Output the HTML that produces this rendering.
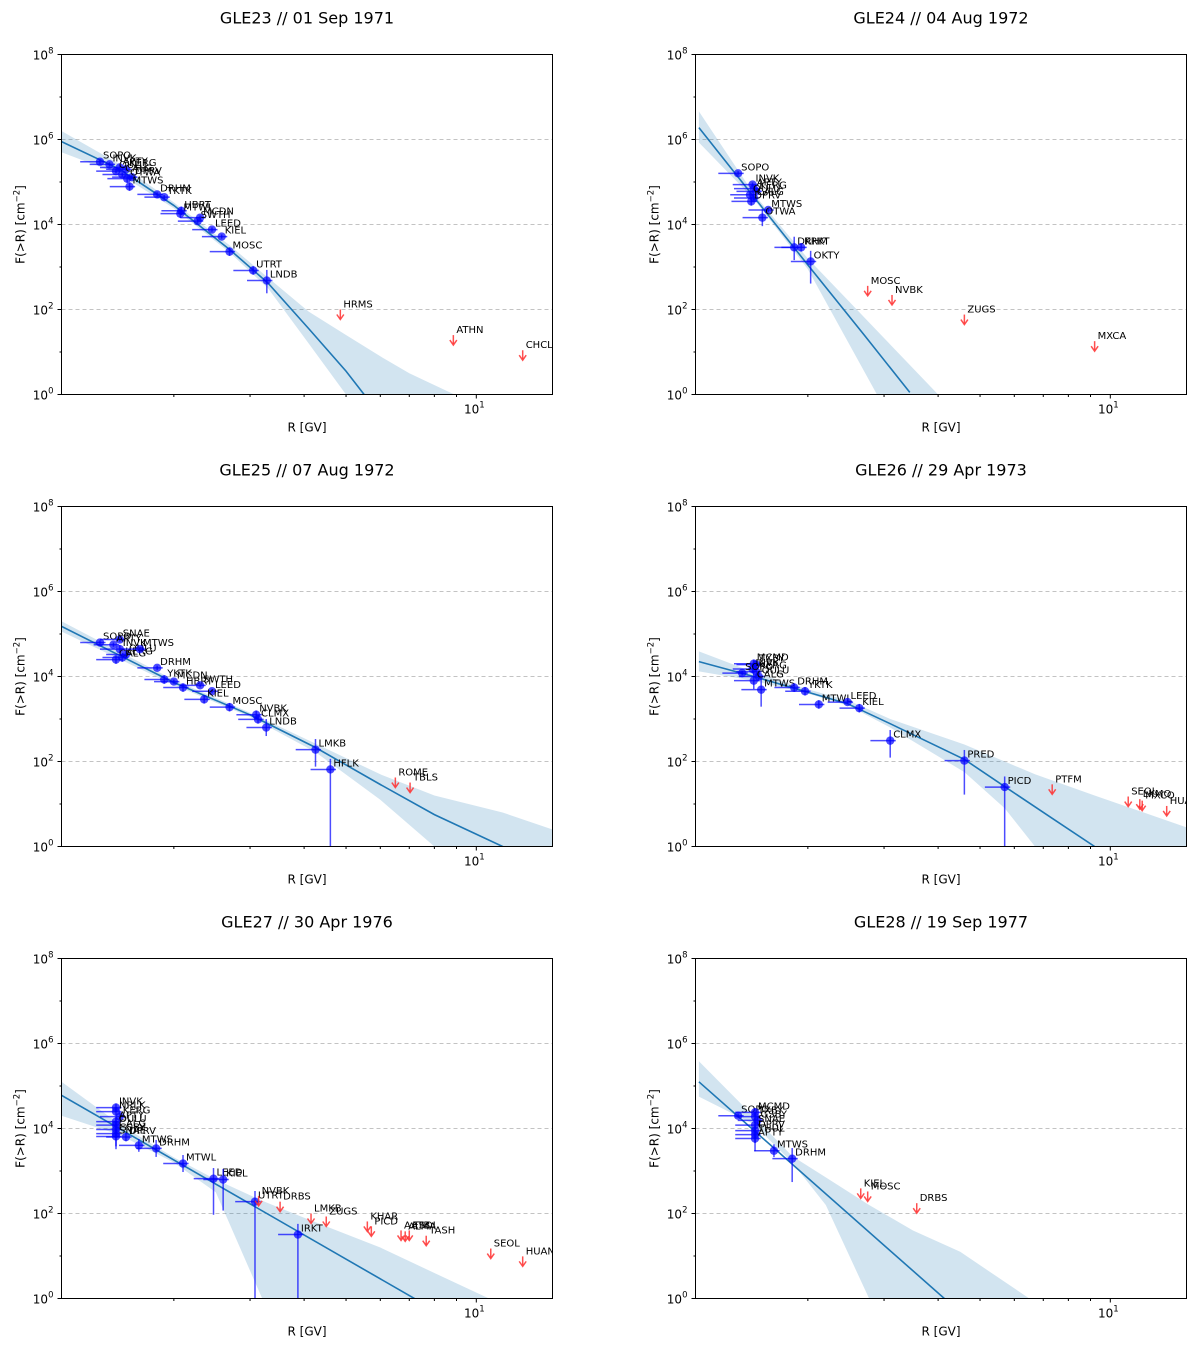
<!DOCTYPE html>
<html><head><meta charset="utf-8"><style>
html,body{margin:0;padding:0;background:#fff;overflow:hidden;width:1200px;height:1347px}
svg{display:block}
svg text{font-family:"DejaVu Sans","Liberation Sans",sans-serif}
</style></head><body>
<svg id="fig" width="1200" height="1347" xmlns="http://www.w3.org/2000/svg"></svg>
<script>
// ---- GLE23 ----
const p1Names=["SOPO","INVK","APTY","KERG","OULU","CALG","DPRV","OTWA","MTWS","DRHM","TKTK","HBRT","MTWL","MCDN","SWTH","LEED","KIEL","MOSC","UTRT","LNDB"];
const p1R=[1.35,1.42,1.5,1.55,1.47,1.52,1.6,1.56,1.58,1.83,1.9,2.08,2.07,2.3,2.27,2.45,2.58,2.69,3.05,3.28];
const p1F=[3.0e5,2.6e5,2.2e5,2.0e5,1.8e5,1.5e5,1.3e5,1.2e5,7.8e4,5.1e4,4.4e4,2.1e4,1.8e4,1.45e4,1.2e4,7.6e3,5.2e3,2.3e3,8.3e2,4.8e2];
const p1Dn=[0.05,0.05,0.05,0.05,0.05,0.05,0.05,0.1,0.1,0.05,0.05,0.1,0.1,0.05,0.05,0.05,0.05,0.1,0.1,0.3];
const p1LimNames=["HRMS","ATHN","CHCL"];
const p1LimR=[4.85,8.85,12.8];
const p1LimF=[100,25,11];
const p1FitR=[1.1,1.5,2,2.7,3.3,4.1,5,5.7];
const p1FitLog=[5.95,5.3,4.45,3.4,2.62,1.55,0.55,-0.2];
const p1BandR=[1.1,1.5,2,2.7,3.3,4.1,5,6,7,8.9];
const p1BandHi=[6.2,5.42,4.52,3.5,2.75,1.95,1.4,0.9,0.5,0];
const p1BandLo=[5.7,5.18,4.38,3.33,2.5,1.2,0,-1,-2,-3];
// ---- GLE24 ----
const p2Names=["SOPO","INVK","APTY","KERG","OULU","CALG","DPRV","MTWS","OTWA","DRHM","KRKT","OKTY"];
const p2R=[1.38,1.49,1.5,1.52,1.47,1.5,1.48,1.62,1.57,1.86,1.93,2.03];
const p2F=[1.6e5,8.7e4,7e4,6e4,5e4,4.2e4,3.5e4,2.2e4,1.45e4,2.9e3,2.9e3,1.35e3];
const p2Dn=[0.05,0.05,0.05,0.05,0.05,0.05,0.1,0.05,0.2,0.3,0.1,0.52];
const p2LimNames=["MOSC","NVBK","ZUGS","MXCA"];
const p2LimR=[2.75,3.13,4.6,9.2];
const p2LimF=[360,220,76,18];
const p2FitR=[1.12,1.5,2,2.7,3.44];
const p2FitLog=[6.28,4.65,3.05,1.4,0.05];
const p2BandR=[1.12,1.5,2,2.5,3,4,5];
const p2BandHi=[6.66,4.72,3.2,2.17,1.33,0,-1];
const p2BandLo=[5.93,4.6,2.95,1.16,-0.3,-3,-5];
// ---- GLE25 ----
const p3Names=["SOPO","SNAE","APTY","INVK","OULU","CALG","KERG","MTWS","DRHM","YKTK","MCDN","HBRT","SWTH","LEED","KIEL","MOSC","NVBK","CLMX","LNDB","LMKB","HFLK"];
const p3R=[1.35,1.5,1.45,1.5,1.55,1.47,1.52,1.67,1.83,1.9,2.0,2.1,2.3,2.45,2.35,2.69,3.1,3.13,3.27,4.25,4.6];
const p3F=[6.3e4,7.4e4,5.6e4,4.4e4,3.3e4,2.5e4,2.8e4,4.4e4,1.6e4,8.5e3,7.6e3,5.5e3,6.2e3,4.5e3,2.9e3,1.9e3,1.26e3,9.8e2,6.3e2,1.9e2,65];
const p3Dn=[0.05,0.05,0.05,0.1,0.1,0.1,0.1,0.05,0.05,0.1,0.05,0.1,0.05,0.05,0.1,0.1,0.1,0.1,0.2,0.4,3];
const p3LimNames=["ROME","TBLS"];
const p3LimR=[6.5,7.03];
const p3LimF=[42,32];
const p3FitR=[1.1,2,3,4.25,6,8,11.5,15];
const p3FitLog=[5.18,3.86,3.1,2.33,1.46,0.75,0,-0.6];
const p3BandR=[1.1,2,3,4.25,6,8,11.5,15];
const p3BandHi=[5.3,3.92,3.15,2.42,1.7,1.2,0.8,0.4];
const p3BandLo=[5.06,3.8,3.05,2.22,1.1,0,-1,-2];
// ---- GLE26 ----
const p4Names=["MCMD","TXBY","INVK","KERG","SOPO","OULU","CALG","MTWS","DRHM","YKTK","MTWL","LEED","KIEL","CLMX","PRED","PICD"];
const p4R=[1.5,1.52,1.49,1.52,1.41,1.54,1.5,1.56,1.86,1.97,2.12,2.47,2.63,3.1,4.6,5.7];
const p4F=[2.0e4,1.9e4,1.5e4,1.3e4,1.2e4,1.0e4,8e3,4.9e3,5.5e3,4.5e3,2.2e3,2.5e3,1.8e3,3.1e2,1.05e2,25];
const p4Dn=[0.1,0.1,0.1,0.1,0.05,0.1,0.2,0.4,0.1,0.1,0.1,0.05,0.1,0.4,0.8,2];
const p4LimNames=["PTFM","SEOL","LKMO","MXCO","HUAN"];
const p4LimR=[7.34,11,11.7,11.85,13.5];
const p4LimF=[29,15,13,12,9];
const p4FitR=[1.12,1.5,1.97,2.47,3.1,4.6,5.7,7.4,9.2];
const p4FitLog=[4.35,4.0,3.65,3.36,2.89,2.05,1.41,0.64,0];
const p4BandR=[1.12,1.5,2,2.5,3.1,4.6,5.7,6.7,9.2,15];
const p4BandHi=[4.59,4.1,3.7,3.42,3.0,2.4,2.0,1.7,1.2,0.45];
const p4BandLo=[4.12,3.9,3.6,3.3,2.8,1.75,0.9,0,-1,-2];
// ---- GLE27 ----
const p5Names=["INVK","NRLK","KERG","APTY","OULU","CALG","GSBY","SNAE","DPRV","MTWS","DRHM","MTWL","LEED","KIEL","UTRT","IRKT"];
const p5R=[1.47,1.47,1.5,1.47,1.47,1.47,1.47,1.47,1.55,1.66,1.82,2.1,2.47,2.6,3.08,3.87];
const p5F=[3.1e4,2.5e4,1.9e4,1.45e4,1.2e4,9.5e3,7.6e3,6.5e3,6.3e3,4e3,3.4e3,1.5e3,6.6e2,6.3e2,1.9e2,32];
const p5Dn=[0.1,0.1,0.1,0.1,0.2,0.2,0.3,0.3,0.1,0.15,0.2,0.2,0.85,0.73,4,4];
const p5LimNames=["NVBK","DRBS","LMKB","ZUGS","KHAR","PICD","AATB","ALMA","ESOI","TASH","SEOL","HUAN"];
const p5LimR=[3.14,3.52,4.15,4.5,5.6,5.72,6.7,6.85,7.0,7.66,10.8,12.8];
const p5LimF=[260,190,100,85,65,50,40,38,40,30,15,9.8];
const p5FitR=[1.1,15];
const p5FitLog=[4.78,-1.87];
const p5BandR=[1.1,1.5,2,2.5,3.2,4,6,8,10.7,15];
const p5BandHi=[5.1,4.1,3.32,2.8,2.3,1.9,1.2,0.6,0,-0.6];
const p5BandLo=[4.3,3.85,3.2,2.5,0,-1.5,-3,-4,-5,-6];
// ---- GLE28 ----
const p6Names=["SOPO","MCMD","TXBY","GSBY","SNAE","DPRV","THUL","APTY","MTWS","DRHM"];
const p6R=[1.38,1.51,1.51,1.53,1.51,1.51,1.51,1.51,1.67,1.84];
const p6F=[2.0e4,2.4e4,1.9e4,1.55e4,1.2e4,8.9e3,7.2e3,5.8e3,3.0e3,1.95e3];
const p6Dn=[0.05,0.1,0.1,0.1,0.1,0.2,0.2,0.3,0.15,0.55];
const p6LimNames=["KIEL","MOSC","DRBS"];
const p6LimR=[2.65,2.75,3.57];
const p6LimF=[390,330,175];
const p6FitR=[1.12,4.5];
const p6FitLog=[5.1,-0.33];
const p6BandR=[1.12,1.5,1.84,2.2,2.77,3.5,4.5,6.5,8];
const p6BandHi=[5.58,4.28,3.35,2.85,2.2,1.6,1.1,0,-0.6];
const p6BandLo=[4.75,4.1,3.2,2.2,0,-2,-4,-6,-7];

const titles=["GLE23 // 01 Sep 1971","GLE24 // 04 Aug 1972","GLE25 // 07 Aug 1972","GLE26 // 29 Apr 1973","GLE27 // 30 Apr 1976","GLE28 // 19 Sep 1977"];
const panels=[
 [p1Names,p1R,p1F,p1Dn,p1LimNames,p1LimR,p1LimF,p1FitR,p1FitLog,p1BandR,p1BandHi,p1BandLo],
 [p2Names,p2R,p2F,p2Dn,p2LimNames,p2LimR,p2LimF,p2FitR,p2FitLog,p2BandR,p2BandHi,p2BandLo],
 [p3Names,p3R,p3F,p3Dn,p3LimNames,p3LimR,p3LimF,p3FitR,p3FitLog,p3BandR,p3BandHi,p3BandLo],
 [p4Names,p4R,p4F,p4Dn,p4LimNames,p4LimR,p4LimF,p4FitR,p4FitLog,p4BandR,p4BandHi,p4BandLo],
 [p5Names,p5R,p5F,p5Dn,p5LimNames,p5LimR,p5LimF,p5FitR,p5FitLog,p5BandR,p5BandHi,p5BandLo],
 [p6Names,p6R,p6F,p6Dn,p6LimNames,p6LimR,p6LimF,p6FitR,p6FitLog,p6BandR,p6BandHi,p6BandLo]];
const yTicks=[0,2,4,6,8];
const xMinorTicks=[2,3,4,5,6,7,8,9];

const NS="http://www.w3.org/2000/svg";
const svg=document.getElementById('fig');
function mk(tag,attrs,parent){const e=document.createElementNS(NS,tag);for(const k in attrs)e.setAttribute(k,attrs[k]);(parent||svg).appendChild(e);return e;}
const X0=[61.5,695.5],TOP=[54.5,506.5,958.5],W=491,H=340;
const LXMIN=Math.log10(1.1),LXMAX=Math.log10(15);

panels.forEach((p,i)=>{
 const [names,R,F,Dn,lN,lR,lF,fR,fL,bR,bH,bL]=p;
 const col=i%2,row=Math.floor(i/2),x0=X0[col],y0=TOP[row];
 const sx=r=>x0+(Math.log10(r)-LXMIN)/(LXMAX-LXMIN)*W;
 const sy=l=>y0+H-(l/8)*H;
 const g=mk('g',{});
 
 
 const t=mk('text',{x:x0+W/2,y:y0-31,'text-anchor':'middle','font-size':16},g);
 t.textContent=titles[i];
 
 
 const cid='clip'+i;
 const cp=mk('clipPath',{id:cid},g);mk('rect',{x:x0,y:y0,width:W,height:H},cp);
 const pa=mk('g',{'clip-path':'url(#'+cid+')'},g);
 [2,4,6].forEach(l=>{const gl=mk('line',{x1:x0,x2:x0+W,y1:sy(l),y2:sy(l),stroke:'#b0b0b0','stroke-dasharray':'4,3','stroke-width':0.8},pa);
  
  });
 let d='';bR.forEach((r,k)=>{d+=(k?'L':'M')+sx(r).toFixed(1)+','+sy(bH[k]).toFixed(1);});
 for(let k=bR.length-1;k>=0;k--)d+='L'+sx(bR[k]).toFixed(1)+','+sy(bL[k]).toFixed(1);
 const band=mk('path',{d:d+'Z',fill:'#1f77b4','fill-opacity':0.2},pa);
 
 
 let fd='';fR.forEach((r,k)=>{fd+=(k?'L':'M')+sx(r).toFixed(1)+','+sy(fL[k]).toFixed(1);});
 const fit=mk('path',{d:fd,fill:'none',stroke:'#1f77b4','stroke-width':1.6},pa);
 
 
 names.forEach((n,k)=>{
  const px=sx(R[k]),l=Math.log10(F[k]),py=sy(l);
  const pg=mk('g',{},pa);
  
  
  mk('line',{x1:sx(R[k]*0.9),x2:sx(R[k]*1.03),y1:py,y2:py,stroke:'#0000ff','stroke-opacity':0.7,'stroke-width':1.5},pg);
  mk('line',{x1:px,x2:px,y1:sy(l+Math.min(Dn[k],0.25)),y2:sy(l-Dn[k]),stroke:'#0000ff','stroke-opacity':0.7,'stroke-width':1.5},pg);
  mk('circle',{cx:px,cy:py,r:4.2,fill:'#0000ff','fill-opacity':0.7},pg);
  const tx=mk('text',{x:px+3,y:py-3,'font-size':10},pg);tx.textContent=n;
 });
 lN.forEach((n,k)=>{
  const px=sx(lR[k]),py=sy(Math.log10(lF[k]));
  const lg=mk('g',{},pa);
  
  
  mk('line',{x1:px,x2:px,y1:py,y2:py+9,stroke:'#ff3030','stroke-opacity':0.85,'stroke-width':1.5},lg);
  mk('path',{d:`M${px-3.5},${py+5}L${px},${py+10}L${px+3.5},${py+5}`,fill:'none',stroke:'#ff3030','stroke-opacity':0.85,'stroke-width':1.5},lg);
  const tx=mk('text',{x:px+3,y:py-2,'font-size':10},lg);tx.textContent=n;
 });
 mk('rect',{x:x0,y:y0,width:W,height:H,fill:'none',stroke:'#000','stroke-width':1},g);
 yTicks.forEach(l=>{const y=sy(l);mk('line',{x1:x0-4,x2:x0,y1:y,y2:y,stroke:'#000'},g);
  const tt=mk('text',{x:x0-8,y:y+5,'text-anchor':'end','font-size':12},g);
  tt.innerHTML='10<tspan dy="-6" font-size="8.5">'+l+'</tspan>';});
 [1,3,5,7].forEach(l=>{const y=sy(l);mk('line',{x1:x0-2,x2:x0,y1:y,y2:y,stroke:'#000'},g);});
 xMinorTicks.forEach(v=>{const x=sx(v);mk('line',{x1:x,x2:x,y1:y0+H,y2:y0+H+2.5,stroke:'#000'},g);});
 const x10=sx(10);mk('line',{x1:x10,x2:x10,y1:y0+H,y2:y0+H+4,stroke:'#000'},g);
 const xt=mk('text',{x:x10-2,y:y0+H+19,'text-anchor':'middle','font-size':12},g);
 xt.innerHTML='10<tspan dy="-6" font-size="8.5">1</tspan>';
 const xl=mk('text',{x:x0+W/2,y:y0+H+37,'text-anchor':'middle','font-size':12},g);xl.textContent='R [GV]';
 
 
 const yl=mk('text',{transform:`translate(${x0-37},${y0+H/2}) rotate(-90)`,'text-anchor':'middle','font-size':12},g);
 yl.innerHTML='F(&gt;R) [cm<tspan dy="-5" font-size="8.5">−2</tspan><tspan dy="5">]</tspan>';
 
 
});
</script>
</body></html>
